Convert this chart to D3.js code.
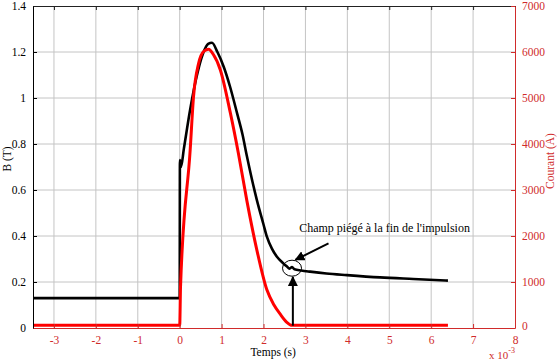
<!DOCTYPE html>
<meta charset="utf-8">
<script src="https://d3js.org/d3.v7.min.js"></script>
<style>
  body { margin: 0; background: #fff; }
  text { font-family: "Liberation Serif", "Times New Roman", serif; }
</style>
<div id="chart"></div>
<script>

// ---- data (time in ms, i.e. x 10^-3 s) ----
var timeTicks = [-3, -2, -1, 0, 1, 2, 3, 4, 5, 6, 7, 8];
var fieldTicks = [0, 0.2, 0.4, 0.6, 0.8, 1, 1.2, 1.4];
var currentTicks = [0, 1000, 2000, 3000, 4000, 5000, 6000, 7000];

// B (T)
var fieldT = [-3.5, -0.01, 0, 0.005, 0.03, 0.1, 0.25, 0.4, 0.55, 0.68, 0.77, 0.9, 1.05, 1.2, 1.37, 1.5, 1.6, 1.84, 2.0, 2.08, 2.2, 2.32, 2.45, 2.56, 2.62, 2.68, 2.74, 2.9, 3.11, 3.5, 3.99, 4.78, 5.57, 6.4];
var fieldB = [0.13, 0.13, 0.13, 0.73, 0.70, 0.78, 0.95, 1.09, 1.19, 1.235, 1.24, 1.2, 1.136, 1.05, 0.933, 0.84, 0.75, 0.557, 0.45, 0.397, 0.345, 0.31, 0.285, 0.267, 0.258, 0.265, 0.255, 0.25, 0.245, 0.237, 0.23, 0.22, 0.213, 0.206];

// Courant (A)
var currentT = [-3.5, -0.01, 0, 0.02, 0.25, 0.33, 0.45, 0.58, 0.69, 0.8, 0.97, 1.21, 1.4, 1.6, 1.84, 2.08, 2.25, 2.4, 2.55, 2.68, 6.4];
var currentA = [60, 60, 60, 900, 3870, 5030, 5750, 6020, 6060, 5950, 5610, 4670, 3800, 2780, 1700, 830, 500, 300, 130, 60, 60];

var red = "#d02b2b";
var serif = "'Liberation Serif', 'Times New Roman', serif";

var margin = {top: 6, right: 42, bottom: 33, left: 33},
  width = 557 - margin.left - margin.right,
  height = 361 - margin.top - margin.bottom;

var svg = d3.select("#chart")
  .append("svg")
    .attr("width", 557)
    .attr("height", 361)
  .append("g")
    .attr("transform", "translate(" + margin.left + "," + margin.top + ")");

var x = d3.scaleLinear().domain([-3.5, 8]).range([0, width]);
var y = d3.scaleLinear().domain([0, 1.4]).range([height, 0]);
var y2 = d3.scaleLinear().domain([0, 7000]).range([height, 0]);

// plain number labels (hyphen minus, no thousands separator)
var plain = function(d){ return String(+d.toFixed(1)); };

// grid
svg.append("g").selectAll("line")
  .data(timeTicks.filter(function(d){ return d < 8; }))
  .enter().append("line")
    .attr("x1", function(d){ return x(d); })
    .attr("x2", function(d){ return x(d); })
    .attr("y1", 0).attr("y2", height)
    .attr("stroke", "#c4c4c4").attr("stroke-width", 1);
svg.append("g").selectAll("line")
  .data(fieldTicks.filter(function(d){ return d > 0 && d < 1.4; }))
  .enter().append("line")
    .attr("y1", function(d){ return y(d); })
    .attr("y2", function(d){ return y(d); })
    .attr("x1", 0).attr("x2", width)
    .attr("stroke", "#c4c4c4").attr("stroke-width", 1);

// curves
var lineB = d3.line()
  .x(function(d, i){ return x(fieldT[i]); })
  .y(function(d){ return y(d); })
  .curve(d3.curveMonotoneX);
var lineI = d3.line()
  .x(function(d, i){ return x(currentT[i]); })
  .y(function(d){ return y2(d); })
  .curve(d3.curveMonotoneX);

svg.append("path")
  .attr("d", lineB(fieldB))
  .attr("fill", "none")
  .attr("stroke", "#000")
  .attr("stroke-width", 2.6);

svg.append("path")
  .attr("d", lineI(currentA))
  .attr("fill", "none")
  .attr("stroke", "#ff0000")
  .attr("stroke-width", 3);

// axes
var axisLeft = svg.append("g")
  .call(d3.axisLeft(y).tickValues(fieldTicks).tickSizeInner(-4).tickSizeOuter(0).tickPadding(7).tickFormat(plain));
axisLeft.attr("font-family", serif).attr("font-size", 11.5);
axisLeft.selectAll("text").attr("fill", "#000");
axisLeft.selectAll("line, path").attr("stroke", "#000");

var axisTop = svg.append("g")
  .call(d3.axisTop(x).tickValues(timeTicks).tickSizeInner(-4).tickSizeOuter(0).tickFormat(""));
axisTop.selectAll("line, path").attr("stroke", "#222");

var axisRight = svg.append("g")
  .attr("transform", "translate(" + width + ",0)")
  .call(d3.axisRight(y2).tickValues(currentTicks).tickSizeInner(-4).tickSizeOuter(0).tickPadding(7).tickFormat(plain));
axisRight.attr("font-family", serif).attr("font-size", 11.5);
axisRight.selectAll("text").attr("fill", red);
axisRight.selectAll("line, path").attr("stroke", red);
axisRight.select(".tick:first-of-type text").attr("dy", "0.1em");

var axisBottom = svg.append("g")
  .attr("transform", "translate(0," + height + ")")
  .call(d3.axisBottom(x).tickValues(timeTicks).tickSizeInner(-4).tickSizeOuter(0).tickPadding(8).tickFormat(plain));
axisBottom.attr("font-family", serif).attr("font-size", 11.5);
axisBottom.selectAll("text").attr("fill", red);
axisBottom.selectAll("line, path").attr("stroke", red);

// axis titles
svg.append("text")
  .attr("x", x(2.23)).attr("y", height + 28)
  .attr("text-anchor", "middle")
  .style("font-size", "11.5px")
  .text("Temps (s)");

var mult = svg.append("text")
  .attr("x", width).attr("y", height + 31)
  .attr("text-anchor", "end")
  .attr("fill", red)
  .style("font-size", "11px");
mult.append("tspan").text("x 10");
mult.append("tspan").attr("dy", -6).style("font-size", "8px").text("-3");

svg.append("text")
  .attr("transform", "translate(" + (-22) + "," + (height / 2 - 8) + ") rotate(-90)")
  .attr("text-anchor", "middle")
  .style("font-size", "11.5px")
  .text("B (T)");

svg.append("text")
  .attr("transform", "translate(" + (width + 39) + "," + (height / 2 - 6) + ") rotate(-90)")
  .attr("text-anchor", "middle")
  .attr("fill", red)
  .style("font-size", "11.5px")
  .text("Courant (A)");

// annotation
var defs = svg.append("defs");
defs.append("marker")
  .attr("id", "arrow")
  .attr("viewBox", "0 0 10 10")
  .attr("refX", 9).attr("refY", 5)
  .attr("markerWidth", 5).attr("markerHeight", 5)
  .attr("orient", "auto")
  .append("path")
    .attr("d", "M0,0L10,5L0,10z")
    .attr("fill", "#000");

svg.append("text")
  .attr("x", x(2.85)).attr("y", y(0.417))
  .style("font-size", "12px")
  .text("Champ piégé à la fin de l'impulsion");

svg.append("line")
  .attr("x1", x(3.55)).attr("y1", y(0.368))
  .attr("x2", x(2.76)).attr("y2", y(0.296))
  .attr("stroke", "#000").attr("stroke-width", 2)
  .attr("marker-end", "url(#arrow)");

svg.append("ellipse")
  .attr("cx", x(2.68)).attr("cy", y(0.26))
  .attr("rx", 9.5).attr("ry", 8)
  .attr("fill", "none")
  .attr("stroke", "#000").attr("stroke-width", 1);

svg.append("line")
  .attr("x1", x(2.7)).attr("y1", y(0.01))
  .attr("x2", x(2.7)).attr("y2", y(0.222))
  .attr("stroke", "#000").attr("stroke-width", 2)
  .attr("marker-end", "url(#arrow)");

</script>
